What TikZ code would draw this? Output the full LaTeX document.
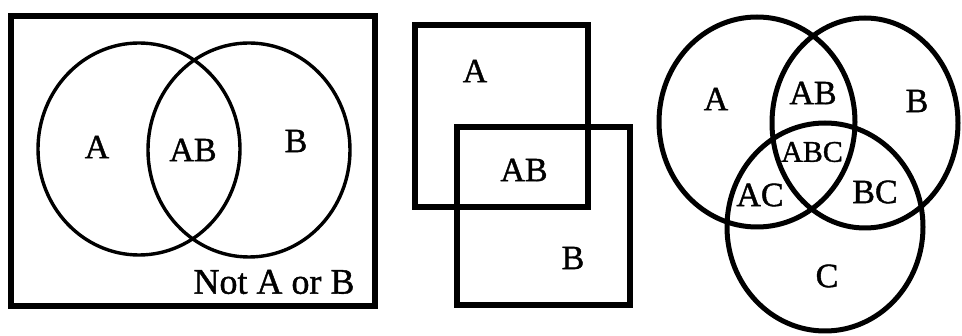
\documentclass[tikz,border=0pt]{standalone}
\usepackage{fontspec}
\setmainfont{Liberation Serif}
\newfontfamily\labfont{Liberation Serif}[FakeBold=1.2]
\begin{document}
\begin{tikzpicture}[x=1pt,y=-1pt,
  lab/.style={font=\labfont\fontsize{34}{34}\selectfont, inner sep=0pt},
  smalllab/.style={font=\labfont\fontsize{30}{30}\selectfont, inner sep=0pt},
  biglab/.style={font=\labfont\fontsize{36}{36}\selectfont, inner sep=0pt},
  thincirc/.style={draw=black, line width=3.4pt},
  thickcirc/.style={draw=black, line width=5pt},
  boxline/.style={draw=black, line width=6.8pt}]
\useasboundingbox (0,0) rectangle (962,336);
% Panel 1
\draw[boxline] (11,16) rectangle (375,306);
\draw[thincirc] (139,149) ellipse [x radius=101, y radius=106];
\draw[thincirc] (249,150) ellipse [x radius=101, y radius=107];
\node[lab] (p1a) at (97,147) {A};
\node[lab] (p1ab) at (193,150) {AB};
\node[lab] (p1b) at (296,141) {B};
\node[biglab] (p1n) at (274,282) {Not A or B};
% Panel 2
\draw[boxline] (415,25) rectangle (588,207);
\draw[boxline] (457,127) rectangle (630,305);
\node[lab] (p2a) at (475,71) {A};
\node[lab] (p2ab) at (524,170) {AB};
\node[lab] (p2b) at (573,258) {B};
% Panel 3
\draw[thickcirc] (757,122) ellipse [x radius=98, y radius=105];
\draw[thickcirc] (865,123) ellipse [x radius=93, y radius=105];
\draw[thickcirc] (825,227) ellipse [x radius=98, y radius=104];
\node[lab] (p3a) at (716,99) {A};
\node[lab] (p3ab) at (813,93) {AB};
\node[lab] (p3b) at (917,101) {B};
\node[smalllab] (p3abc) at (812,152) {ABC};
\node[lab] (p3ac) at (760,195) {AC};
\node[lab] (p3bc) at (875,192) {BC};
\node[lab] (p3c) at (827,276) {C};
\end{tikzpicture}
\end{document}
